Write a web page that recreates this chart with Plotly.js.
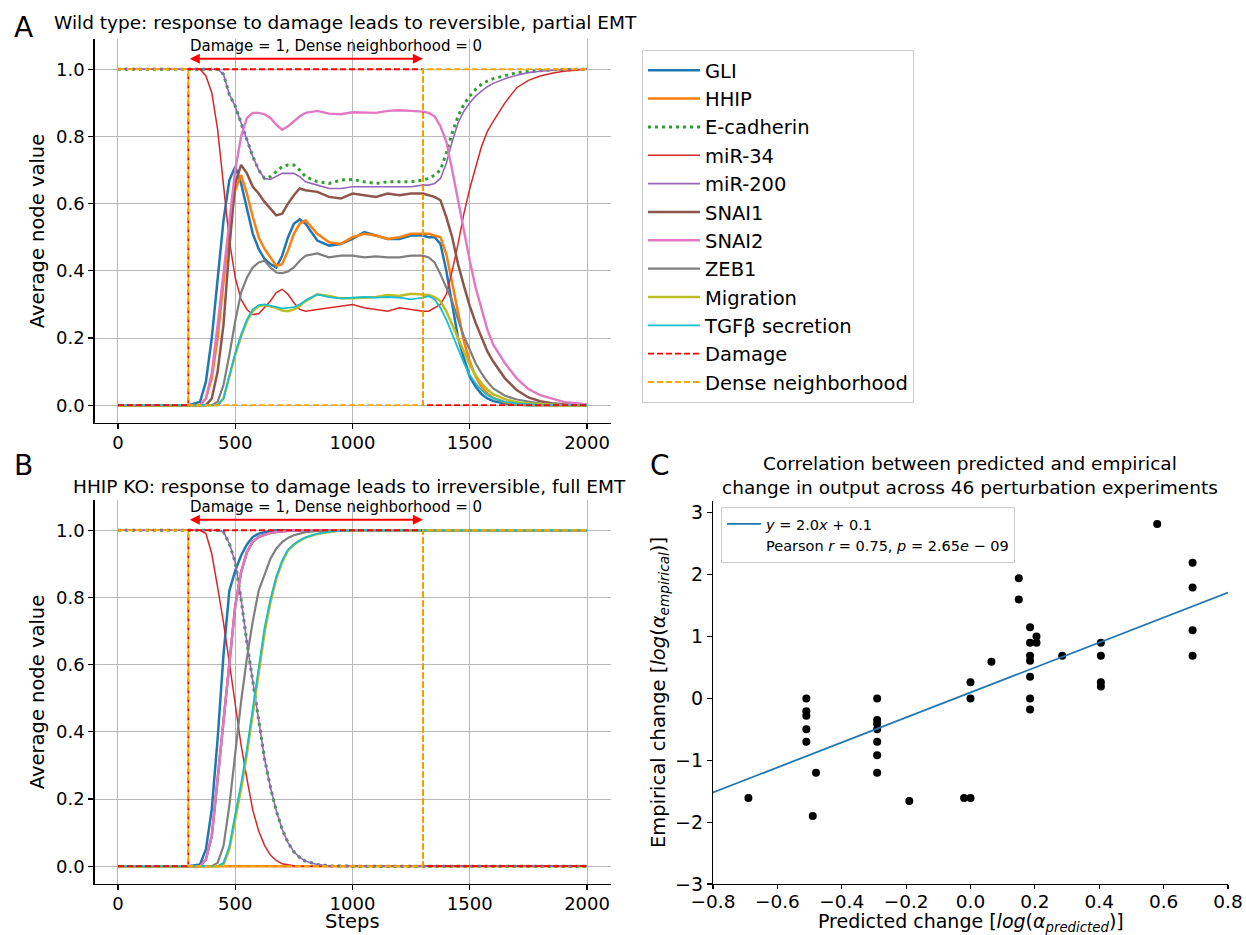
<!DOCTYPE html>
<html>
<head>
<meta charset="utf-8">
<script src="https://cdn.plot.ly/plotly-3.0.1.min.js"></script>
<style>html,body{margin:0;padding:0;background:#fff;}#chart{width:1246px;height:935px;}</style>
</head>
<body>
<div id="chart"></div>
<script>
// ---------- Panel A: wild type ----------
const stepsA = [0,300,350,375,400,425,450,475,500,525,550,575,600,625,650,675,700,725,750,775,800,850,900,950,1000,1050,1100,1150,1200,1250,1300,1325,1350,1375,1400,1425,1450,1475,1500,1525,1550,1575,1600,1650,1700,1750,1800,1850,1900,2000];
const gliA = [0,0,0.01,0.07,0.2,0.37,0.55,0.67,0.71,0.66, 0.58,0.51,0.465,0.435,0.42,0.41,0.445,0.5,0.54,0.553, 0.54,0.49,0.475,0.48,0.495,0.515,0.505,0.495,0.495,0.505, 0.505,0.5,0.5,0.48,0.4,0.3,0.2,0.14,0.085,0.055, 0.033,0.02,0.012,0.005,0.001,0,0,0,0,0];
const hhipA = [0,0,0,0.02,0.08,0.2,0.36,0.53,0.64,0.685, 0.63,0.56,0.5,0.465,0.44,0.415,0.42,0.46,0.51,0.54, 0.55,0.51,0.485,0.48,0.5,0.51,0.505,0.495,0.5,0.51, 0.51,0.51,0.505,0.5,0.45,0.36,0.27,0.19,0.13,0.085, 0.055,0.035,0.022,0.009,0.003,0.001,0,0,0,0];
const ecadA = [1,1,1,1,1,1,0.985,0.925,0.89,0.84, 0.79,0.74,0.7,0.675,0.68,0.695,0.71,0.715,0.715,0.7, 0.68,0.665,0.66,0.67,0.672,0.665,0.66,0.665,0.665,0.665, 0.67,0.675,0.685,0.7,0.75,0.81,0.86,0.895,0.92,0.94, 0.955,0.965,0.972,0.982,0.99,0.993,0.996,0.998,0.999,1];
const mir34A = [1,1,1,0.98,0.93,0.82,0.66,0.49,0.38,0.315, 0.285,0.27,0.272,0.29,0.31,0.335,0.345,0.33,0.305,0.285, 0.28,0.285,0.29,0.295,0.3,0.29,0.285,0.28,0.29,0.285, 0.28,0.28,0.29,0.3,0.33,0.4,0.48,0.57,0.645,0.71, 0.77,0.815,0.845,0.9,0.945,0.967,0.98,0.988,0.994,1];
const mir200A = [1,1,1,1,1,1,0.985,0.925,0.89,0.84, 0.79,0.74,0.7,0.675,0.672,0.68,0.69,0.69,0.69,0.68, 0.665,0.655,0.645,0.645,0.65,0.65,0.65,0.65,0.65,0.65, 0.655,0.655,0.66,0.675,0.72,0.785,0.84,0.875,0.9,0.92, 0.935,0.948,0.958,0.972,0.982,0.99,0.994,0.997,0.999,1];
const snai1A = [0,0,0,0,0.02,0.1,0.24,0.47,0.66,0.715, 0.69,0.65,0.63,0.605,0.585,0.565,0.57,0.6,0.625,0.645, 0.64,0.635,0.62,0.615,0.63,0.625,0.62,0.63,0.625,0.63, 0.63,0.625,0.62,0.61,0.56,0.5,0.42,0.355,0.295,0.245, 0.2,0.16,0.13,0.08,0.045,0.023,0.012,0.006,0.003,0];
const snai2A = [0,0,0,0.02,0.095,0.24,0.4,0.56,0.7,0.8, 0.855,0.87,0.87,0.866,0.855,0.835,0.82,0.83,0.845,0.86, 0.87,0.876,0.868,0.866,0.872,0.87,0.87,0.876,0.878,0.876, 0.874,0.87,0.86,0.83,0.785,0.7,0.61,0.51,0.43,0.35, 0.285,0.225,0.18,0.125,0.08,0.048,0.03,0.02,0.01,0.002];
const zeb1A = [0,0,0,0,0,0.01,0.06,0.15,0.25,0.335, 0.38,0.41,0.425,0.43,0.41,0.395,0.393,0.398,0.41,0.43, 0.445,0.452,0.44,0.445,0.445,0.44,0.443,0.44,0.44,0.445, 0.445,0.44,0.425,0.39,0.35,0.31,0.255,0.205,0.165,0.125, 0.095,0.07,0.05,0.028,0.017,0.01,0.005,0.003,0.001,0];
const migA = [0,0,0,0,0,0,0.02,0.085,0.15,0.205, 0.25,0.28,0.295,0.298,0.293,0.29,0.282,0.28,0.285,0.295, 0.31,0.33,0.325,0.318,0.318,0.32,0.322,0.328,0.325,0.332, 0.33,0.328,0.322,0.31,0.28,0.24,0.195,0.155,0.12,0.09, 0.065,0.047,0.033,0.018,0.009,0.005,0.003,0.001,0,0];
const tgfA = [0,0,0,0,0,0,0.02,0.09,0.155,0.21, 0.255,0.285,0.298,0.3,0.296,0.292,0.288,0.29,0.292,0.3, 0.312,0.33,0.322,0.318,0.32,0.322,0.32,0.322,0.32,0.315, 0.32,0.325,0.315,0.29,0.255,0.21,0.165,0.125,0.09,0.065, 0.045,0.03,0.02,0.01,0.005,0.002,0.001,0,0,0];

// ---------- inputs (step functions) ----------
const switchSteps = [0,300,1300,2000];
const damageVals = [0,1,0,0];
const denseVals = [1,0,1,1];
const damageWindow = [300,1300];

// ---------- Panel B: HHIP KO ----------
const stepsB = [0,300,350,375,400,425,450,475,500,525,550,575,600,625,650,675,700,725,750,775,800,850,900,950,1000,1300,2000];
const gliB = [0,0,0.005,0.05,0.17,0.38,0.63,0.82,0.88,0.925, 0.958,0.98,0.99,0.995,0.998,1,1,1,1,1, 1,1,1,1,1,1,1];
const hhipB = [0,0,0,0,0,0,0,0,0,0, 0,0,0,0,0,0,0,0,0,0, 0,0,0,0,0,0,0];
const ecadB = [1,1,1,1,1,1,0.995,0.96,0.905,0.795, 0.665,0.55,0.425,0.32,0.235,0.165,0.11,0.07,0.043,0.026, 0.015,0.005,0.001,0,0,0,0];
const mir34B = [1,1,1,0.99,0.93,0.83,0.725,0.605,0.48,0.36, 0.26,0.166,0.105,0.062,0.033,0.017,0.007,0.003,0.001,0, 0,0,0,0,0,0,0];
const mir200B = [1,1,1,1,1,1,0.995,0.96,0.905,0.795, 0.665,0.55,0.425,0.32,0.235,0.165,0.11,0.07,0.043,0.026, 0.015,0.005,0.001,0,0,0,0];
const snai1B = [0,0,0,0.02,0.09,0.26,0.43,0.62,0.775,0.875, 0.935,0.966,0.98,0.986,0.992,0.995,0.997,0.999,1,1, 1,1,1,1,1,1,1];
const snai2B = [0,0,0,0.02,0.09,0.26,0.43,0.62,0.775,0.875, 0.935,0.966,0.98,0.986,0.992,0.995,0.997,0.999,1,1, 1,1,1,1,1,1,1];
const zeb1B = [0,0,0,0,0,0.01,0.06,0.18,0.345,0.49, 0.62,0.73,0.82,0.87,0.915,0.945,0.965,0.977,0.985,0.99, 0.994,0.998,1,1,1,1,1];
const migB = [0,0,0,0,0,0,0.005,0.05,0.14,0.23, 0.335,0.455,0.58,0.695,0.785,0.855,0.905,0.94,0.957,0.969, 0.978,0.989,0.995,0.999,1,1,1];
const tgfB = [0,0,0,0,0,0,0.01,0.06,0.155,0.245, 0.35,0.474,0.595,0.71,0.795,0.862,0.91,0.942,0.958,0.97, 0.979,0.99,0.996,0.999,1,1,1];

// ---------- Panel C: predicted vs empirical ----------
const predicted = [-0.69,-0.51,-0.51,-0.51,-0.51,-0.51,-0.48,-0.49,-0.29,-0.29,-0.29,-0.29,-0.29,-0.29,-0.29,-0.19,-0.02,0.0,0.0,0.0,0.065,0.15,0.15,0.185,0.185,0.185,0.185,0.185,0.185,0.185,0.205,0.205,0.285,0.405,0.405,0.405,0.405,0.58,0.69,0.69,0.69,0.69];
const empirical = [-1.61,0.0,-0.21,-0.28,-0.5,-0.7,-1.2,-1.9,0.0,-0.35,-0.41,-0.5,-0.7,-0.92,-1.2,-1.66,-1.61,-1.61,0.26,0.0,0.59,1.94,1.6,1.15,0.9,0.69,0.61,0.35,0.0,-0.18,1.0,0.9,0.69,0.9,0.69,0.26,0.19,2.82,2.19,1.79,1.1,0.69];
const fitX = [-0.8,0.8];
const fitY = [-1.52,1.71];

// ---------- series descriptions ----------
const names = ['GLI','HHIP','E-cadherin','miR-34','miR-200','SNAI1','SNAI2','ZEB1','Migration','TGFβ secretion'];
const colors = ['#1f77b4','#ff7f0e','#2ca02c','#d62728','#9467bd','#8c564b','#e377c2','#7f7f7f','#bcbd22','#17becf'];
const widths = [2.5,2.5,3,1.5,1.6,2.5,2.4,2.2,2.5,1.8];
const dashes = ['solid','solid','3px,4px','solid','solid','solid','solid','solid','solid','solid'];
const seriesA = [gliA,hhipA,ecadA,mir34A,mir200A,snai1A,snai2A,zeb1A,migA,tgfA];
const seriesB = [gliB,hhipB,ecadB,mir34B,mir200B,snai1B,snai2B,zeb1B,migB,tgfB];

const FONT = 'DejaVu Sans, Verdana, sans-serif';
const traces = [];
function addPanel(xs, series, xa, ya, showLeg) {
  series.forEach((vals, i) => {
    traces.push({type:'scatter', mode:'lines', x:xs, y:vals, xaxis:xa, yaxis:ya,
      name:names[i], showlegend:showLeg, legendgroup:names[i],
      line:{color:colors[i], width:widths[i], dash:dashes[i]}, hoverinfo:'skip'});
  });
  traces.push({type:'scatter', mode:'lines', x:switchSteps, y:damageVals, xaxis:xa, yaxis:ya,
    name:'Damage', showlegend:showLeg, legendgroup:'Damage',
    line:{color:'red', width:1.8, dash:'6px,3px', shape:'hv'}, hoverinfo:'skip'});
  traces.push({type:'scatter', mode:'lines', x:switchSteps, y:denseVals, xaxis:xa, yaxis:ya,
    name:'Dense neighborhood', showlegend:showLeg, legendgroup:'Dense',
    line:{color:'orange', width:1.8, dash:'6px,3px', shape:'hv'}, hoverinfo:'skip'});
}
addPanel(stepsA, seriesA, 'x', 'y', true);
addPanel(stepsB, seriesB, 'x2', 'y2', false);

traces.push({type:'scatter', mode:'markers', x:predicted, y:empirical, xaxis:'x3', yaxis:'y3',
  showlegend:false, marker:{color:'black', size:8}, hoverinfo:'skip'});
traces.push({type:'scatter', mode:'lines', x:fitX, y:fitY, xaxis:'x3', yaxis:'y3',
  name:'<i>y</i> = 2.0<i>x</i> + 0.1', legend:'legend2', legendgroup:'fit', showlegend:true,
  line:{color:'#1f77b4', width:1.8}, hoverinfo:'skip'});
traces.push({type:'scatter', mode:'lines', x:[null], y:[null], xaxis:'x3', yaxis:'y3',
  name:'Pearson <i>r</i> = 0.75, <i>p</i> = 2.65<i>e</i> − 09', legend:'legend2', legendgroup:'stat', showlegend:true,
  line:{color:'rgba(0,0,0,0)', width:0}, hoverinfo:'skip'});

const W = 1246, H = 935;
const px = v => v / W, py = v => 1 - v / H;

function stepAxis(domain, anchor) {
  return {domain:domain, anchor:anchor, range:[-100,2100], tickvals:[0,500,1000,1500,2000],
    showgrid:true, gridcolor:'#b8b8b8', gridwidth:1, zeroline:false, showline:true, linecolor:'black', linewidth:1.2,
    ticks:'outside', ticklen:5, tickwidth:1.2, tickcolor:'black', tickfont:{size:18, family:FONT, color:'black'},
    ticklabelstandoff:-2, automargin:false};
}
function valAxis(domain, anchor) {
  return {domain:domain, anchor:anchor, range:[-0.053,1.09], tickvals:[0,0.2,0.4,0.6,0.8,1.0], tickformat:'.1f',
    showgrid:true, gridcolor:'#b8b8b8', gridwidth:1, zeroline:false, showline:true, linecolor:'black', linewidth:1.2,
    ticks:'outside', ticklen:5, tickwidth:1.2, tickcolor:'black', tickfont:{size:18, family:FONT, color:'black'},
    title:{text:'Average node value', font:{size:19.5, family:FONT, color:'black'}, standoff:6}, automargin:false};
}

const annFont = (s) => ({size:s, family:FONT, color:'black'});
const annotations = [
  {xref:'paper', yref:'paper', x:px(23), y:py(27), text:'A', showarrow:false, font:annFont(28), xanchor:'center', yanchor:'middle'},
  {xref:'paper', yref:'paper', x:px(23), y:py(465), text:'B', showarrow:false, font:annFont(28), xanchor:'center', yanchor:'middle'},
  {xref:'paper', yref:'paper', x:px(660), y:py(465), text:'C', showarrow:false, font:annFont(28), xanchor:'center', yanchor:'middle'},
  {xref:'paper', yref:'paper', x:px(345), y:py(22), text:'Wild type: response to damage leads to reversible, partial EMT', showarrow:false, font:annFont(18.5), xanchor:'center', yanchor:'middle'},
  {xref:'paper', yref:'paper', x:px(349), y:py(486), text:'HHIP KO: response to damage leads to irreversible, full EMT', showarrow:false, font:annFont(18.5), xanchor:'center', yanchor:'middle'},
  {xref:'paper', yref:'paper', x:px(970), y:py(475.5), text:'Correlation between predicted and empirical<br>change in output across 46 perturbation experiments', showarrow:false, font:annFont(18.5), xanchor:'center', yanchor:'middle'},
  {xref:'paper', yref:'paper', x:px(970.5), y:py(937), text:'Predicted change [<i>log</i>(<i>α</i><sub><i>predicted</i></sub>)]', showarrow:false, font:annFont(19), xanchor:'center', yanchor:'bottom'},
  {xref:'paper', yref:'paper', x:px(352.5), y:py(935), text:'Steps', showarrow:false, font:annFont(19.5), xanchor:'center', yanchor:'bottom'},
];
[['x','y'],['x2','y2']].forEach(([xa,ya]) => {
  annotations.push({xref:xa, yref:ya, x:damageWindow[1], y:1.031, axref:xa, ayref:ya, ax:damageWindow[0], ay:1.031,
    text:'', showarrow:true, arrowhead:2, arrowside:'end+start', arrowsize:1, arrowwidth:2, arrowcolor:'red'});
  annotations.push({xref:xa, yref:ya, x:damageWindow[0], y:1.068, text:'Damage = 1, Dense neighborhood = 0',
    showarrow:false, xanchor:'left', yanchor:'middle', font:annFont(15)});
});

const layout = {
  width:W, height:H, margin:{l:0, r:0, t:0, b:0}, paper_bgcolor:'white', plot_bgcolor:'white',
  font:{family:FONT, color:'black'},
  xaxis: stepAxis([px(94.5), px(610.5)], 'y'),
  yaxis: valAxis([py(423), py(39)], 'x'),
  xaxis2: stepAxis([px(94.5), px(610.5)], 'y2'),
  yaxis2: valAxis([py(884), py(500)], 'x2'),
  xaxis3: {domain:[px(713), px(1228)], anchor:'y3', range:[-0.8,0.8], tick0:-0.8, dtick:0.2, tickformat:'.1f',
    showgrid:false, zeroline:false, showline:true, linecolor:'black', linewidth:1.2,
    ticks:'outside', ticklen:4, tickwidth:1.2, tickcolor:'black', tickfont:{size:18.5, family:FONT, color:'black'},
    ticklabelstandoff:-3, automargin:false},
  yaxis3: {domain:[py(884), py(501)], anchor:'x3', range:[-3,3.19], tick0:-3, dtick:1,
    showgrid:false, zeroline:false, showline:true, linecolor:'black', linewidth:1.2,
    ticks:'outside', ticklen:5, tickwidth:1.2, tickcolor:'black', tickfont:{size:19, family:FONT, color:'black'},
    title:{text:'Empirical change [<i>log</i>(<i>α</i><sub><i>empirical</i></sub>)]', font:{size:19.5, family:FONT, color:'black'}, standoff:4}, automargin:false},
  legend: {x:px(642), y:py(50), xanchor:'left', yanchor:'top', bgcolor:'white', bordercolor:'#cccccc', borderwidth:1,
    font:{size:19.5, family:FONT, color:'black'}, itemwidth:52, tracegroupgap:0, traceorder:'normal'},
  legend2: {x:px(721), y:py(507), xanchor:'left', yanchor:'top', bgcolor:'white', bordercolor:'#cccccc', borderwidth:1,
    font:{size:14.5, family:FONT, color:'black'}, itemwidth:34, tracegroupgap:4, traceorder:'normal'},
  annotations: annotations,
  showlegend:true
};

Plotly.newPlot('chart', traces, layout, {displayModeBar:false, staticPlot:true});
</script>
</body>
</html>
